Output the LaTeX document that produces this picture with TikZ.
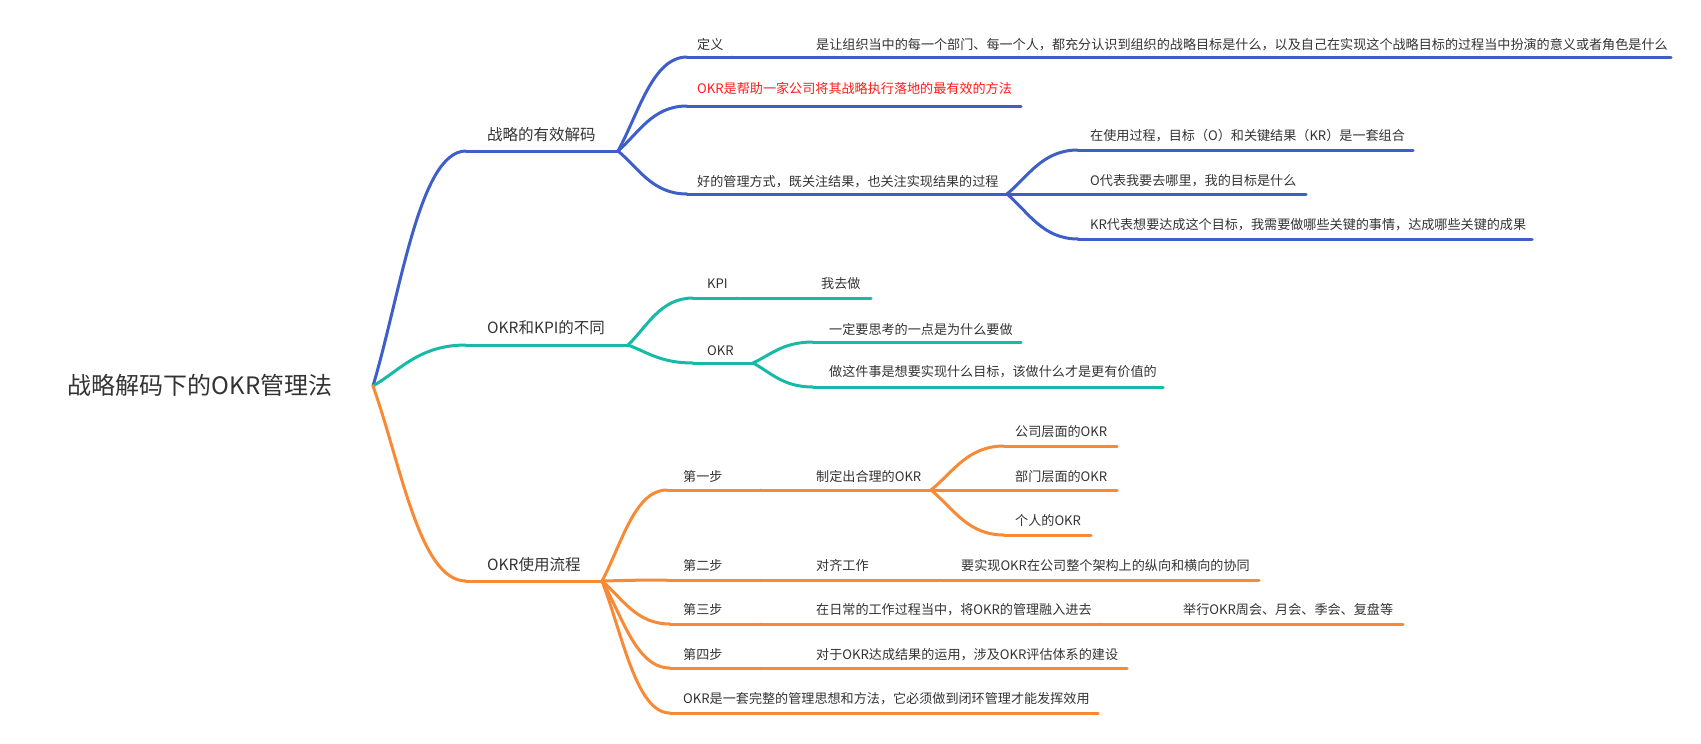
\documentclass[tikz,border=0pt]{standalone}
\usepackage{fontspec}
\setmainfont{Noto Sans CJK SC}
\usetikzlibrary{calc}
\definecolor{cblue}{HTML}{3F5FC8}
\definecolor{cteal}{HTML}{17B9A7}
\definecolor{corange}{HTML}{F98A35}
\definecolor{ctext}{HTML}{333333}
\definecolor{cred}{HTML}{FF1A1A}
\newcommand\ul[5]{\coordinate (#1-l) at (#2,#4); \coordinate (#1-r) at (#3,#4); \draw[#5] (#1-l) -- (#1-r);}
\newcommand\link[3]{\draw[#1] let \p1=(#2), \p2=(#3) in (\p1) .. controls ({\x1+0.3*(\x2-\x1)},{\y1+0.4*(\y2-\y1)}) and ({0.5*(\x1+\x2)},\y2) .. (\p2);}
\begin{document}
\begin{tikzpicture}[x=1pt,y=-1pt,
  txt/.style={inner sep=0pt, anchor=west, text=ctext, font=\fontsize{13.1}{16}\selectfont, text height=11.4pt, text depth=1.6pt},
  btxt/.style={inner sep=0pt, anchor=west, text=ctext, font=\fontsize{15.5}{18}\selectfont, text height=13.6pt, text depth=1.9pt},
  rtxt/.style={inner sep=0pt, text=ctext, font=\fontsize{24}{28}\selectfont},
  bl/.style={draw=cblue, line width=3pt, line cap=round},
  tl/.style={draw=cteal, line width=3pt, line cap=round},
  ol/.style={draw=corange, line width=3pt, line cap=round}]
\useasboundingbox (0,0) rectangle (1701,744);
% root
\node[rtxt] (root) at (200,385) {战略解码下的OKR管理法};
\coordinate (root-r) at (373,386);
% branch 1
\ul{b1}{466}{618}{151}{bl}
\node[btxt] (b1) at (487,135) {战略的有效解码};
\link{bl}{root-r}{b1-l}
\ul{c11}{687}{732}{57}{bl}
\node[txt] (c11) at (697,45) {定义};
\link{bl}{b1-r}{c11-l}
\ul{c111}{732}{1671}{57}{bl}
\node[txt] (c111) at (816,45) {是让组织当中的每一个部门、每一个人，都充分认识到组织的战略目标是什么，以及自己在实现这个战略目标的过程当中扮演的意义或者角色是什么};
\draw[bl] (c11-r) -- (c111-l);
\ul{c12}{687}{1021}{106}{bl}
\node[txt, text=cred] (c12) at (697,89) {OKR是帮助一家公司将其战略执行落地的最有效的方法};
\link{bl}{b1-r}{c12-l}
\ul{c13}{687}{1007}{194}{bl}
\node[txt] (c13) at (697,182) {好的管理方式，既关注结果，也关注实现结果的过程};
\link{bl}{b1-r}{c13-l}
\ul{c131}{1078}{1413}{150}{bl}
\node[txt] (c131) at (1090,136) {在使用过程，目标（O）和关键结果（KR）是一套组合};
\link{bl}{c13-r}{c131-l}
\ul{c132}{1078}{1306}{194}{bl}
\node[txt] (c132) at (1090,181) {O代表我要去哪里，我的目标是什么};
\link{bl}{c13-r}{c132-l}
\ul{c133}{1078}{1532}{239}{bl}
\node[txt] (c133) at (1090,225) {KR代表想要达成这个目标，我需要做哪些关键的事情，达成哪些关键的成果};
\link{bl}{c13-r}{c133-l}
% branch 2
\ul{b2}{466}{628}{345}{tl}
\node[btxt] (b2) at (487,328) {OKR和KPI的不同};
\link{tl}{root-r}{b2-l}
\ul{c21}{693}{737}{298}{tl}
\node[txt] (c21) at (707,284) {KPI};
\link{tl}{b2-r}{c21-l}
\ul{c211}{737}{871}{298}{tl}
\node[txt] (c211) at (821,284) {我去做};
\draw[tl] (c21-r) -- (c211-l);
\ul{c22}{693}{753}{363}{tl}
\node[txt] (c22) at (707,351) {OKR};
\link{tl}{b2-r}{c22-l}
\ul{c221}{813}{1021}{342}{tl}
\node[txt] (c221) at (829,330) {一定要思考的一点是为什么要做};
\link{tl}{c22-r}{c221-l}
\ul{c222}{813}{1163}{387}{tl}
\node[txt] (c222) at (829,372) {做这件事是想要实现什么目标，该做什么才是更有价值的};
\link{tl}{c22-r}{c222-l}
% branch 3
\ul{b3}{466}{602}{581}{ol}
\node[btxt] (b3) at (487,565) {OKR使用流程};
\link{ol}{root-r}{b3-l}
\ul{c31}{667}{760}{490}{ol}
\node[txt] (c31) at (683,477) {第一步};
\link{ol}{b3-r}{c31-l}
\ul{c311}{760}{931}{490}{ol}
\node[txt] (c311) at (816,477) {制定出合理的OKR};
\draw[ol] (c31-r) -- (c311-l);
\ul{c3111}{1004}{1117}{446}{ol}
\node[txt] (c3111) at (1015,432) {公司层面的OKR};
\link{ol}{c311-r}{c3111-l}
\ul{c3112}{1004}{1117}{490}{ol}
\node[txt] (c3112) at (1015,477) {部门层面的OKR};
\link{ol}{c311-r}{c3112-l}
\ul{c3113}{1004}{1091}{535}{ol}
\node[txt] (c3113) at (1015,521) {个人的OKR};
\link{ol}{c311-r}{c3113-l}
\ul{c32}{667}{760}{580}{ol}
\node[txt] (c32) at (683,566) {第二步};
\link{ol}{b3-r}{c32-l}
\ul{c321}{760}{940}{580}{ol}
\node[txt] (c321) at (816,566) {对齐工作};
\draw[ol] (c32-r) -- (c321-l);
\ul{c322}{940}{1259}{580}{ol}
\node[txt] (c322) at (961,566) {要实现OKR在公司整个架构上的纵向和横向的协同};
\draw[ol] (c321-r) -- (c322-l);
\ul{c33}{670}{760}{624}{ol}
\node[txt] (c33) at (683,610) {第三步};
\link{ol}{b3-r}{c33-l}
\ul{c331}{760}{1100}{624}{ol}
\node[txt] (c331) at (816,610) {在日常的工作过程当中，将OKR的管理融入进去};
\draw[ol] (c33-r) -- (c331-l);
\ul{c332}{1100}{1403}{624}{ol}
\node[txt] (c332) at (1183,610) {举行OKR周会、月会、季会、复盘等};
\draw[ol] (c331-r) -- (c332-l);
\ul{c34}{670}{760}{668}{ol}
\node[txt] (c34) at (683,655) {第四步};
\link{ol}{b3-r}{c34-l}
\ul{c341}{760}{1127}{668}{ol}
\node[txt] (c341) at (816,655) {对于OKR达成结果的运用，涉及OKR评估体系的建设};
\draw[ol] (c34-r) -- (c341-l);
\ul{c35}{670}{1098}{713}{ol}
\node[txt] (c35) at (683,699) {OKR是一套完整的管理思想和方法，它必须做到闭环管理才能发挥效用};
\link{ol}{b3-r}{c35-l}
\end{tikzpicture}
\end{document}
